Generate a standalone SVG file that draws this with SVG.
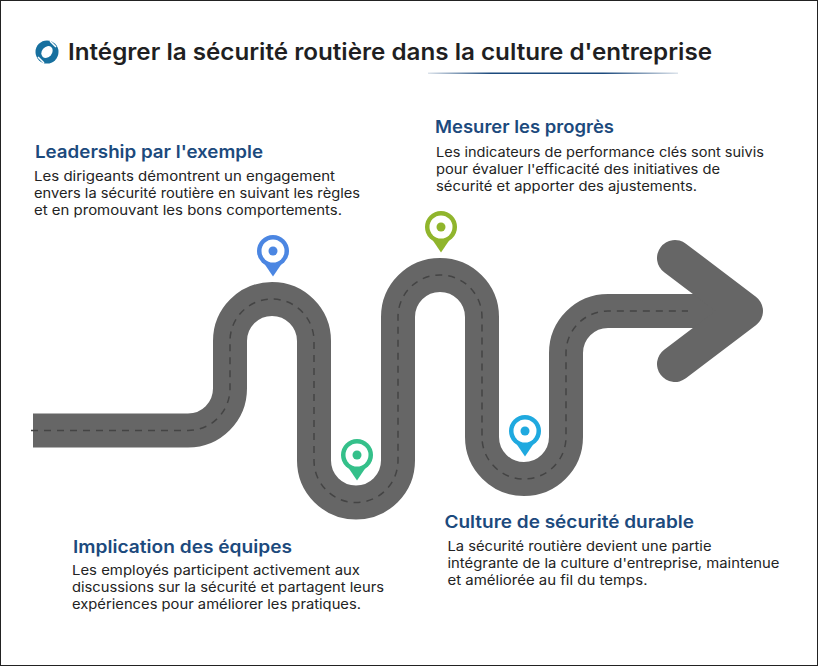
<svg xmlns="http://www.w3.org/2000/svg" width="818" height="666" viewBox="0 0 818 666">
<style>
text{font-family:Inter,"Liberation Sans",sans-serif}
.title{font-size:22.500px;font-weight:600;fill:#1f1f22}
.h{font-size:17.500px;font-weight:600;fill:#1c4a7d}
.b{font-size:13.500px;font-weight:400;fill:#232323}
.pin-w{fill:#fff}
</style>
<defs>
<linearGradient id="ul" x1="0" x2="1" y1="0" y2="0"><stop offset="0" stop-color="#1c4a7d" stop-opacity="0.150"/><stop offset=".25" stop-color="#1c4a7d"/><stop offset=".7" stop-color="#1c4a7d"/><stop offset="1" stop-color="#1c4a7d" stop-opacity="0.150"/></linearGradient>
<symbol id="pin" overflow="visible"><path d="M-10.500 10 L0 25.500 L10.500 10 Z" fill="currentColor"/><circle r="16" fill="currentColor"/><circle r="11.500" class="pin-w"/><circle r="4.500" fill="currentColor"/></symbol>
</defs>
<rect x="0.500" y="0.500" width="817" height="665" fill="#fff" stroke="#222" stroke-width="1"/>
<g id="header">
<circle cx="47" cy="52" r="11.500" fill="#17709f"/><ellipse cx="47" cy="52" rx="5" ry="6.500" transform="rotate(40 47 52)" fill="#fff"/>
<path d="M50 41 L56 47 M44 63 L38 57" stroke="#fff" stroke-width="1.500" fill="none"/>
<text class="title" x="68" y="60" textLength="644" lengthAdjust="spacingAndGlyphs">Intégrer la sécurité routière dans la culture d'entreprise</text>
<rect x="428" y="72.500" width="250" height="1.500" fill="url(#ul)"/>
</g>
<g id="connectors">
<path id="road" d="M33 430.500H188A42 42 0 0 0 230 388.500V341A42 42 0 0 1 314 341V460.500A42 42 0 0 0 398 460.500V317A42 42 0 0 1 482 317V437A42 42 0 0 0 566 437V353A42 42 0 0 1 608 311H735" fill="none" stroke="#666" stroke-width="34"/>
<path id="arrowhead" d="M675 258 L745 311 L675 364" fill="none" stroke="#666" stroke-width="36" stroke-linecap="round" stroke-linejoin="round"/>
<path id="road-dash" d="M31 430.500H188A42 42 0 0 0 230 388.500V341A42 42 0 0 1 314 341V460.500A42 42 0 0 0 398 460.500V317A42 42 0 0 1 482 317V437A42 42 0 0 0 566 437V353A42 42 0 0 1 608 311H688" fill="none" stroke="#444" stroke-width="1.500" stroke-dasharray="7 6"/>
</g>
<g id="pin1" color="#4b86e2"><use href="#pin" x="273" y="251"/></g>
<g id="pin2" color="#34c08a"><use href="#pin" x="357" y="455"/></g>
<g id="pin3" color="#90b52c"><use href="#pin" x="441" y="227"/></g>
<g id="pin4" color="#1fa9df"><use href="#pin" x="525" y="431"/></g>
<g id="node1">
<text class="h" x="35" y="157.500" textLength="228" lengthAdjust="spacingAndGlyphs">Leadership par l'exemple</text>
<text class="b" x="34" y="181" textLength="301" lengthAdjust="spacingAndGlyphs">Les dirigeants démontrent un engagement</text>
<text class="b" x="34" y="198" textLength="326" lengthAdjust="spacingAndGlyphs">envers la sécurité routière en suivant les règles</text>
<text class="b" x="34" y="215" textLength="308" lengthAdjust="spacingAndGlyphs">et en promouvant les bons comportements.</text>
</g>
<g id="node2">
<text class="h" x="73" y="552.500" textLength="219" lengthAdjust="spacingAndGlyphs">Implication des équipes</text>
<text class="b" x="72" y="575" textLength="288" lengthAdjust="spacingAndGlyphs">Les employés participent activement aux</text>
<text class="b" x="72" y="592" textLength="312" lengthAdjust="spacingAndGlyphs">discussions sur la sécurité et partagent leurs</text>
<text class="b" x="72" y="609" textLength="289" lengthAdjust="spacingAndGlyphs">expériences pour améliorer les pratiques.</text>
</g>
<g id="node3">
<text class="h" x="435" y="133" textLength="179" lengthAdjust="spacingAndGlyphs">Mesurer les progrès</text>
<text class="b" x="436" y="157" textLength="328" lengthAdjust="spacingAndGlyphs">Les indicateurs de performance clés sont suivis</text>
<text class="b" x="436" y="174" textLength="284" lengthAdjust="spacingAndGlyphs">pour évaluer l'efficacité des initiatives de</text>
<text class="b" x="436" y="191" textLength="261" lengthAdjust="spacingAndGlyphs">sécurité et apporter des ajustements.</text>
</g>
<g id="node4">
<text class="h" x="444.500" y="528" textLength="249.500" lengthAdjust="spacingAndGlyphs">Culture de sécurité durable</text>
<text class="b" x="447.500" y="551" textLength="264" lengthAdjust="spacingAndGlyphs">La sécurité routière devient une partie</text>
<text class="b" x="447.500" y="567.500" textLength="332" lengthAdjust="spacingAndGlyphs">intégrante de la culture d'entreprise, maintenue</text>
<text class="b" x="447.500" y="584.500" textLength="200" lengthAdjust="spacingAndGlyphs">et améliorée au fil du temps.</text>
</g>
</svg>
